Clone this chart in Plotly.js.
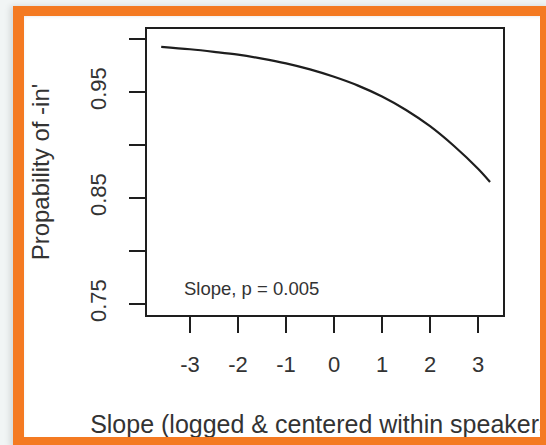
<!DOCTYPE html>
<html>
<head>
<meta charset="utf-8">
<script src="https://cdn.plot.ly/plotly-3.0.1.min.js"></script>
<style>
  html, body { margin:0; padding:0; width:546px; height:445px; overflow:hidden; background:#f1f5f5; }
  #bg { position:absolute; left:22px; top:15px; width:530px; height:435px; background:#ffffff;
        box-shadow: inset 0 0 4px rgba(0,0,0,0.18); }
  #frame { position:absolute; left:13px; top:6px; width:538px; height:442px; box-sizing:border-box;
        border-style:solid; border-color:#f47a22; border-width:10px 11px 11px 11px;
        box-shadow: -3px 0 6px rgba(0,0,0,0.12); pointer-events:none; z-index:5; }
  #chart { position:absolute; left:0; top:0; width:546px; height:445px; z-index:2; }
</style>
</head>
<body>
<div id="bg"></div>
<div id="chart"></div>
<div id="frame"></div>
<script>
// Slope (logged & centered within speaker) vs predicted probability of -in'
const slopeX = [-3.6, -3.0, -2.5, -2.0, -1.5, -1.0, -0.5, 0.0, 0.5, 1.0, 1.5, 2.0, 2.5, 3.0, 3.25];
const probIn = [0.9926, 0.9903, 0.9879, 0.9852, 0.9815, 0.9770, 0.9713, 0.9643, 0.9560, 0.9457, 0.9330, 0.9177, 0.8990, 0.8775, 0.8650];

const xTickVals = [-3, -2, -1, 0, 1, 2, 3];
const xTickText = ['-3', '-2', '-1', '0', '1', '2', '3'];
const yTickVals = [0.75, 0.80, 0.85, 0.90, 0.95, 1.00];
const yTickText = ['0.75', '', '0.85', '', '0.95', ''];

const xTitle = 'Slope (logged &amp; centered within speakers)';
const yTitle = "Propability of -in'";
const note = 'Slope, p = 0.005';

const font = 'Liberation Sans, Arial, Helvetica, sans-serif';
const ink = '#333333';

const trace = {
  x: slopeX, y: probIn, type: 'scatter', mode: 'lines',
  line: { color: '#1e1e1e', width: 2.2, shape: 'spline', smoothing: 1 },
  hoverinfo: 'skip', showlegend: false
};

const layout = {
  width: 546, height: 445,
  margin: { l: 147, r: 43, t: 29, b: 130, pad: 0 },
  paper_bgcolor: 'rgba(0,0,0,0)', plot_bgcolor: 'rgba(0,0,0,0)',
  font: { family: font, color: ink },
  showlegend: false,
  xaxis: {
    range: [-3.896, 3.52], showgrid: false, zeroline: false,
    showline: true, mirror: true, linecolor: '#1e1e1e', linewidth: 2,
    ticks: 'outside', ticklen: 16, tickwidth: 2, tickcolor: '#1e1e1e',
    tickvals: xTickVals, ticktext: xTickText, ticklabelstandoff: 13,
    tickfont: { family: font, size: 22, color: ink },
    title: { text: xTitle, font: { family: font, size: 25, color: ink }, standoff: 39 },
    automargin: false
  },
  yaxis: {
    range: [0.7396, 1.0094], showgrid: false, zeroline: false,
    showline: true, mirror: true, linecolor: '#1e1e1e', linewidth: 2,
    ticks: 'outside', ticklen: 16, tickwidth: 2, tickcolor: '#1e1e1e',
    tickvals: yTickVals, ticktext: yTickText, tickangle: -90, ticklabelstandoff: 14,
    tickfont: { family: font, size: 22, color: ink },
    title: { text: yTitle, font: { family: font, size: 24, color: ink }, standoff: 30 },
    automargin: false
  },
  annotations: [{
    text: note, xref: 'paper', yref: 'paper', x: 0.098, y: 0.091,
    xanchor: 'left', yanchor: 'middle', showarrow: false,
    font: { family: font, size: 18.5, color: ink }
  }]
};

Plotly.newPlot('chart', [trace], layout, { displayModeBar: false, staticPlot: true });
</script>
</body>
</html>
